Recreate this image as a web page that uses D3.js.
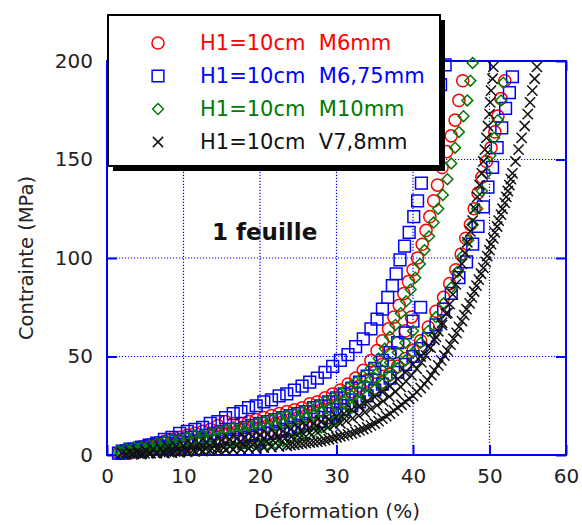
<html lang="fr">
<head>
<meta charset="UTF-8">
<script src="https://d3js.org/d3.v7.min.js"></script>
<style>
  body { margin: 0; background: #fff; }
  svg { font-family: "DejaVu Sans", Verdana, sans-serif; }
</style>
</head>
<body>
<div id="chart"></div>
<script>
// tick values
const xTicks = [0, 10, 20, 30, 40, 50, 60];
const yTicks = [0, 50, 100, 150, 200];

// series: [deformation %, contrainte MPa]
const redA = [[1.5,1],[2.5,2],[3.5,3],[4.5,4],[5.5,5],[6.5,6],[7.5,7],[8.5,8],[9.5,9],[10.5,10],[11.5,11],[12.5,12],[13.5,13],[14.5,15],[15.5,17],[16.5,16],[17.5,16],[18.5,17],[19.5,18],[20.5,19],[21.5,20],[22.5,21],[23.5,22],[24.5,23],[25.5,24],[26.5,26],[27.5,27],[28.5,29],[29.5,31],[30.5,33],[31.5,36],[32.5,39],[33.5,43],[34.5,48],[35.3,53],[36,58],[36.8,64],[37.5,70],[38.2,76],[38.8,82],[39.4,88],[40,94],[40.6,100],[41.2,107],[41.7,114],[42.2,121],[42.7,129],[43.2,137],[43.8,146],[44.4,154],[45,162],[45.5,170],[46,180],[46.5,190]];
const redB = [[2,1],[3,1],[4,2],[5,2],[6,3],[7,3],[8,4],[9,4],[10,5],[11,5],[12,6],[13,6],[14,7],[15,7],[16,8],[17,8],[18,9],[19,9],[20,10],[21,11],[22,11],[23,12],[24,13],[25,14],[26,15],[27,16],[28,17],[29,19],[30,21],[31,23],[32,25],[33,28],[34,31],[35,34],[36,37],[37,41],[38,45],[39,49],[40,53],[41,58],[42,65],[43,73],[44,80],[44.8,87],[45.6,94],[46.3,102],[46.9,110],[47.5,117],[48,125],[48.5,133],[49,141],[49.6,149],[50.2,156],[50.7,164],[51.1,172],[51.5,181],[52,190]];
const redC = [[2,2],[3,2],[4,3],[5,3],[6,4],[7,5],[8,5],[9,6],[10,7],[11,7],[12,8],[13,9],[14,10],[15,11],[16,11],[17,12],[18,13],[19,14],[20,14],[21,15],[22,16],[23,17],[24,18],[25,19],[26,20],[27,22],[28,23],[29,25],[30,27],[31,29],[32,32],[33,35],[34,38],[35,42],[36,46],[37,51],[38,57],[39,63],[39.8,70]];
const blueA = [[1.5,1],[2.5,2],[3.5,3],[4.5,4],[5.5,5],[6.5,6],[7.5,8],[8.5,9],[9.5,11],[10.5,12],[11.5,13],[12.5,14],[13.5,16],[14.5,17],[15.5,19],[16.5,21],[17.5,22],[18.5,24],[19.5,25],[20.5,27],[21.5,28],[22.5,30],[23.5,31],[24.5,33],[25.5,35],[26.5,37],[27.5,39],[28.5,42],[29.5,45],[30.5,48],[31.5,51],[32.5,55],[33.5,59],[34.5,64],[35.3,69],[36,74],[36.7,80],[37.3,86],[37.8,92],[38.3,99],[38.9,106],[39.5,113],[40.1,121],[40.6,129],[41.1,138],[41.6,148],[42.1,158],[42.6,168],[43.1,178],[43.6,188],[44.2,198]];
const blueB = [[2,1],[3,2],[4,2],[5,3],[6,3],[7,4],[8,4],[9,5],[10,5],[11,6],[12,6],[13,7],[14,7],[15,8],[16,8],[17,9],[18,9],[19,10],[20,10],[21,11],[22,11],[23,12],[24,13],[25,14],[26,15],[27,16],[28,17],[29,19],[30,21],[31,23],[32,25],[33,27],[34,30],[35,33],[36,36],[37,39],[38,42],[39,46],[40,50],[41,54],[42,59],[43,66],[44,74],[45,82],[46,90],[47,98],[47.8,107],[48.5,116],[49.2,126],[49.8,136],[50.4,146],[51,156],[51.6,166],[52.1,176],[52.6,184],[53,192]];
const blueC = [[2,2],[3,3],[4,3],[5,4],[6,5],[7,6],[8,6],[9,7],[10,8],[11,9],[12,9],[13,10],[14,11],[15,12],[16,13],[17,13],[18,14],[19,15],[20,16],[21,17],[22,18],[23,19],[24,20],[25,21],[26,22],[27,24],[28,25],[29,27],[30,29],[31,31],[32,34],[33,37],[34,40],[35,44],[36,48],[37,52],[38,57],[39,62],[40,68],[41,75]];
const greenA = [[1.5,2],[2.5,3],[3.5,4],[4.5,4],[5.5,5],[6.5,6],[7.5,7],[8.5,8],[9.5,8],[10.5,9],[11.5,10],[12.5,10],[13.5,11],[14.5,12],[15.5,13],[16.5,14],[17.5,14],[18.5,15],[19.5,16],[20.5,17],[21.5,18],[22.5,19],[23.5,20],[24.5,21],[25.5,22],[26.5,24],[27.5,25],[28.5,27],[29.5,29],[30.5,31],[31.5,34],[32.5,37],[33.5,40],[34.5,44],[35.5,49],[36.3,54],[37,60],[37.7,66],[38.4,72],[39.1,78],[39.7,84],[40.3,90],[40.9,97],[41.5,104],[42.1,111],[42.7,118],[43.3,125],[43.9,132],[44.5,140],[45,148],[45.5,156],[46,164],[46.6,172],[47.1,180],[47.5,190],[47.8,199]];
const greenB = [[2,1],[3,1],[4,1],[5,1],[6,1.5],[7,1.5],[8,2],[9,2],[10,2],[11,2.5],[12,2.5],[13,3],[14,3],[15,3],[16,3.5],[17,3.5],[18,4],[19,4.5],[20,5],[21,5.5],[22,6],[23,7],[24,8],[25,9],[26,10],[27,12],[28,14],[29,16],[30,18],[31,21],[32,24],[33,27],[34,30],[35,33],[36,36],[37,40],[38,44],[39,48],[40,52],[41,57],[42,63],[43,70],[44,77],[45,85],[45.8,93],[46.5,101],[47.2,109],[47.8,117],[48.4,125],[49,134],[49.6,143],[50.1,152],[50.6,161],[51.1,170],[51.5,180],[51.8,189]];
const greenC = [[2,1],[3,2],[4,3],[5,3],[6,4],[7,4],[8,5],[9,6],[10,6],[11,7],[12,8],[13,8],[14,9],[15,10],[16,10],[17,11],[18,12],[19,12],[20,13],[21,14],[22,15],[23,16],[24,17],[25,18],[26,19],[27,20],[28,22],[29,23],[30,25],[31,27],[32,30],[33,32],[34,35],[35,39],[36,43],[37,47],[38,52],[39,57],[40,63]];
const blackA = [[2.5,0.5],[3.3,0.5],[4.1,0.7],[4.9,0.8],[5.7,1],[6.5,1.1],[7.3,1.3],[8.1,1.5],[8.9,1.7],[9.7,2],[10.5,2.2],[11.3,2.5],[12.1,2.8],[12.9,3.1],[13.7,3.4],[14.5,3.7],[15.3,4],[16.1,4.4],[16.9,4.8],[17.7,5.2],[18.5,5.6],[19.3,6],[20.1,6.5],[20.9,7],[21.7,7.5],[22.5,8],[23.3,8.6],[24.1,9.2],[24.9,9.9],[25.7,10.6],[26.5,11.4],[27.3,12.2],[28.1,13.1],[28.9,14],[29.7,15],[30.5,16.1],[31.3,17.3],[32.1,18.6],[32.9,20],[33.7,21.6],[34.5,23.3],[35.3,25.2],[36.1,27.3],[36.9,29.6],[37.7,32.1],[38.4,34.6],[39.1,37.4],[39.8,40.4],[40.5,43.7],[41.1,47],[41.7,50.6],[42.3,54.5],[42.8,58.5],[43.3,62.8],[43.8,67.2],[44.3,71.8],[44.8,76.6],[45.2,81.5],[45.6,86.6],[46,91.8],[46.4,97],[46.8,102.5],[47.1,108],[47.5,113.5],[47.8,119],[48.1,125],[48.4,131],[48.7,137],[49,143],[49.2,149],[49.4,155],[49.6,161],[49.8,167],[50,173],[50.1,179],[50.2,185],[50.4,191],[50.5,197]];
const blackB = [[3.5,0.5],[4.5,0.5],[5.5,0.8],[6.5,1],[7.5,1],[8.5,1.2],[9.5,1.4],[10.5,1.6],[11.5,1.8],[12.5,2],[13.5,2.2],[14.5,2.4],[15.5,2.6],[16.5,2.8],[17.5,3],[18.5,3.2],[19.5,3.4],[20.5,3.7],[21.5,4],[22.5,4.3],[23.5,4.7],[24,5],[24.5,5.2],[25,5.5],[25.5,5.8],[26,6],[26.5,6.3],[27,6.5],[27.5,6.8],[28,7],[28.5,7.5],[29,8],[29.5,8.5],[30,9],[30.5,9.5],[31,10],[31.5,10.5],[32,11],[32.5,11.7],[33,12.5],[33.5,13.2],[34,14],[34.5,15],[35,16],[35.5,17.2],[36,18.5],[36.5,19.7],[37,21],[37.5,22.5],[38,24],[38.5,25.5],[39,27],[39.5,28.5],[40,30],[40.5,32],[41,34],[41.5,36],[41.9,38],[42.4,40.5],[42.8,43],[43.3,45.5],[43.7,48],[44.1,50.5],[44.5,53],[44.9,56],[45.3,59],[45.7,62],[46,65],[46.4,68],[46.7,71],[47,74],[47.4,77],[47.7,80],[48,83],[48.3,86],[48.6,89],[48.9,92],[49.2,95],[49.5,98],[49.7,101],[50,104],[50.2,107],[50.5,110],[50.7,113],[51,116],[51.2,119],[51.5,122],[51.7,125],[52,128],[52.2,131],[52.4,134],[52.6,137],[52.8,140],[53,143],[53.4,149],[53.8,155],[54.2,161],[54.6,167],[55,173],[55.3,179],[55.6,185],[55.9,191],[56.2,197]];
const blackC = [[2,1],[3,1.5],[4,2],[5,2.5],[6,3],[7,3.5],[8,4],[9,4.5],[10,5],[11,5.5],[12,6],[13,6.5],[14,7],[15,7.5],[16,8],[17,8.5],[18,9],[19,9.5],[20,10],[21,10.5],[22,11],[23,12],[24,13],[25,14],[26,15],[27,16],[28,17],[29,18],[30,19.5],[31,21],[32,23],[33,25],[34,27],[35,29.5],[36,32],[37,35],[38,38.5],[39,42],[40,46],[41,50],[42,55],[43,60],[43.8,66],[44.5,72]];

const legendLabels = ["H1=10cm  M6mm", "H1=10cm  M6,75mm", "H1=10cm  M10mm", "H1=10cm  V7,8mm"];

const series = [
  { color: "#ff0000", type: d3.symbolCircle, size: 115, sets: [redA, redB, redC] },
  { color: "#0000ff", type: d3.symbolSquare2, size: 175, sets: [blueA, blueB, blueC] },
  { color: "#007a00", type: d3.symbolDiamond2, size: 75, sets: [greenA, greenB, greenC] },
  { color: "#111111", type: d3.symbolTimes, size: 70, sets: [blackA, blackB, blackC] }
];

const svg = d3.select("#chart").append("svg")
  .attr("width", 582)
  .attr("height", 525);

svg.append("rect").attr("width", 582).attr("height", 525).attr("fill", "#fff");

const x = d3.scaleLinear().domain([0, 60]).range([107, 566]);
const y = d3.scaleLinear().domain([0, 200]).range([455, 61]);

const blue = "#0000ff";

// dotted grid
svg.append("g").selectAll("line")
  .data(xTicks.slice(1, -1))
  .join("line")
  .attr("x1", d => x(d)).attr("x2", d => x(d))
  .attr("y1", y(0)).attr("y2", y(200))
  .attr("stroke", blue).attr("stroke-width", 1.2)
  .attr("stroke-dasharray", "1.2,1.8");

svg.append("g").selectAll("line")
  .data(yTicks.slice(1, -1))
  .join("line")
  .attr("x1", x(0)).attr("x2", x(60))
  .attr("y1", d => y(d)).attr("y2", d => y(d))
  .attr("stroke", blue).attr("stroke-width", 1.2)
  .attr("stroke-dasharray", "1.2,1.8");

// axes with inward ticks
function styleAxis(g) {
  g.select(".domain").remove();
  g.selectAll(".tick line").attr("stroke", blue).attr("stroke-width", 2);
  g.selectAll(".tick text").attr("fill", "#222").style("font-size", "20px")
    .style("font-family", "'DejaVu Sans', Verdana, sans-serif");
}

svg.append("g").attr("transform", `translate(0,${y(0)})`)
  .call(d3.axisBottom(x).tickValues(xTicks).tickSize(-10).tickPadding(14))
  .call(styleAxis);
svg.append("g").attr("transform", `translate(0,${y(200)})`)
  .call(d3.axisTop(x).tickValues(xTicks).tickSize(-10).tickFormat(""))
  .call(styleAxis);
svg.append("g").attr("transform", `translate(${x(0)},0)`)
  .call(d3.axisLeft(y).tickValues(yTicks).tickSize(-10).tickPadding(14))
  .call(styleAxis);
svg.append("g").attr("transform", `translate(${x(60)},0)`)
  .call(d3.axisRight(y).tickValues(yTicks).tickSize(-10).tickFormat(""))
  .call(styleAxis);

// frame
svg.append("rect")
  .attr("x", x(0)).attr("y", y(200))
  .attr("width", x(60) - x(0)).attr("height", y(0) - y(200))
  .attr("fill", "none").attr("stroke", blue).attr("stroke-width", 2);

// markers
series.forEach(s => {
  const sym = d3.symbol().type(s.type).size(s.size);
  s.sets.forEach(pts => {
    svg.append("g").selectAll("path")
      .data(pts)
      .join("path")
      .attr("transform", d => `translate(${x(d[0])},${y(d[1])})`)
      .attr("d", sym)
      .attr("fill", "none")
      .attr("stroke", s.color)
      .attr("stroke-width", 1.5);
  });
});

// annotation
svg.append("text")
  .attr("x", 212).attr("y", 240)
  .style("font-size", "23px").style("font-weight", "bold")
  .attr("fill", "#111")
  .text("1 feuille");

// axis titles
svg.append("text")
  .attr("x", 337).attr("y", 518)
  .attr("text-anchor", "middle")
  .style("font-size", "20px").attr("fill", "#222")
  .text("Déformation  (%)");

svg.append("text")
  .attr("transform", "translate(33,258) rotate(-90)")
  .attr("text-anchor", "middle")
  .style("font-size", "19.5px").attr("fill", "#222")
  .text("Contrainte  (MPa)");

// legend box with shadow
const lg = svg.append("g");
lg.append("rect").attr("x", 113).attr("y", 20).attr("width", 332).attr("height", 151).attr("fill", "#000");
lg.append("rect").attr("x", 108).attr("y", 15).attr("width", 332).attr("height", 151)
  .attr("fill", "#fff").attr("stroke", "#000").attr("stroke-width", 2);

series.forEach((s, i) => {
  const by = 50 + i * 33;
  lg.append("path")
    .attr("transform", `translate(158,${by - 7})`)
    .attr("d", d3.symbol().type(s.type).size(s.size)())
    .attr("fill", "none").attr("stroke", s.color).attr("stroke-width", 1.5);
  lg.append("text")
    .attr("x", 200).attr("y", by)
    .style("font-size", "21px")
    .attr("fill", s.color)
    .attr("xml:space", "preserve")
    .text(legendLabels[i]);
});
</script>
</body>
</html>
